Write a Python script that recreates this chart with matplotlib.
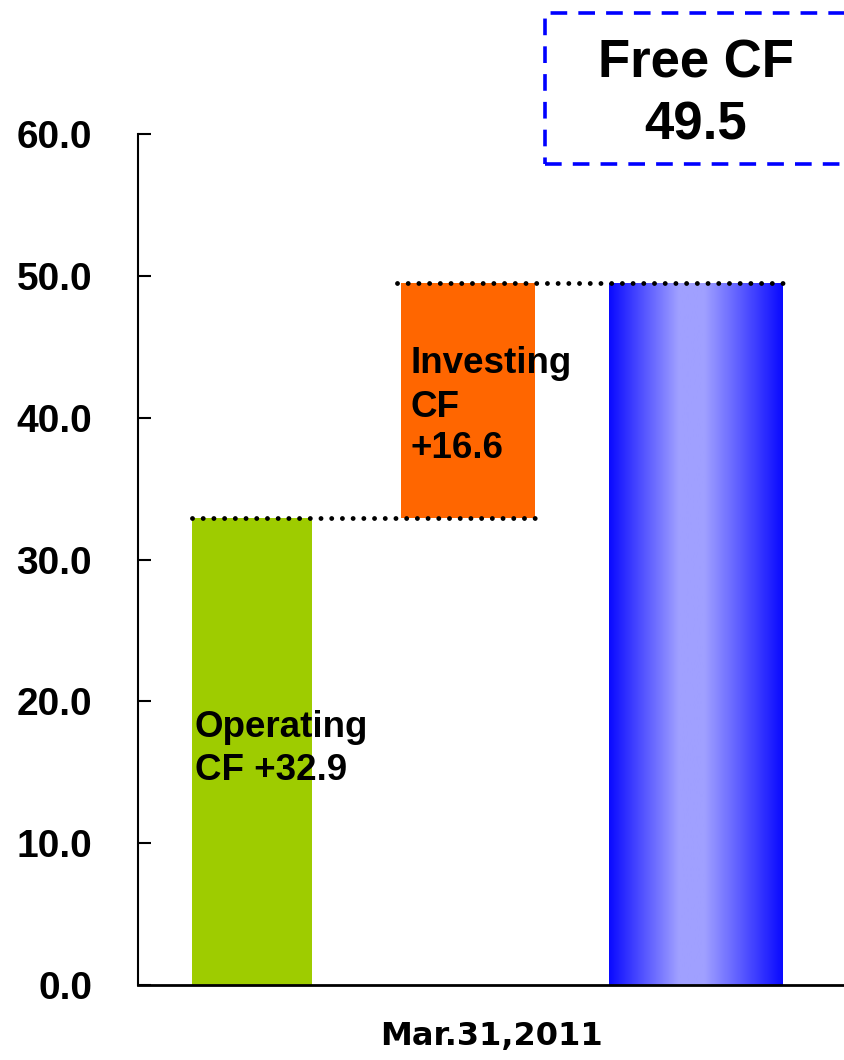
import numpy as np
import matplotlib
matplotlib.use("Agg")
import matplotlib.pyplot as plt
from matplotlib.patches import Rectangle
from matplotlib.colors import LinearSegmentedColormap

# Cash-flow components (billions)
categories = ["Operating CF", "Investing CF", "Free CF"]
operating_cf = 32.9
investing_cf = 16.6
free_cf = operating_cf + investing_cf
period_label = "Mar.31,2011"
y_ticks = [0, 10, 20, 30, 40, 50, 60]

# Layout of the three columns along the axis (axis units 0..10)
bar_left = [0.765, 3.725, 6.671]
bar_width = [1.70, 1.898, 2.451]

plt.rcParams["font.family"] = ["Liberation Sans", "DejaVu Sans"]
plt.rcParams["font.weight"] = "bold"
plt.rcParams["lines.scale_dashes"] = False

W, H = 844, 1060
fig = plt.figure(figsize=(W / 100, H / 100), dpi=100)
ax = fig.add_axes([138 / W, (H - 985) / H, (W - 138) / W, (985 - 134) / H])

ax.set_xlim(0, 10)
ax.set_ylim(0, 60)

# Operating CF column
ax.bar(bar_left[0], operating_cf, width=bar_width[0], bottom=0, align="edge",
       color="#9ECC00", zorder=2)
# Investing CF column, stacked on top of operating
ax.bar(bar_left[1], investing_cf, width=bar_width[1], bottom=operating_cf,
       align="edge", color="#FF6600", zorder=2)
# Free CF column with horizontal gradient fill
free_bar = ax.bar(bar_left[2], free_cf, width=bar_width[2], bottom=0,
                  align="edge", color="none", zorder=2)[0]
cmap = LinearSegmentedColormap.from_list(
    "bluegrad",
    [(0.0, "#0A0AFF"), (0.40, "#A0A0FF"), (0.55, "#A0A0FF"), (1.0, "#0A0AFF")])
grad = np.linspace(0, 1, 256).reshape(1, -1)
img = ax.imshow(grad, cmap=cmap, aspect="auto", interpolation="bilinear",
                extent=(bar_left[2], bar_left[2] + bar_width[2], 0, free_cf),
                zorder=2)
img.set_clip_path(free_bar)
ax.set_xlim(0, 10)
ax.set_ylim(0, 60)

# Dotted connector lines
dot_style = dict(color="black", linewidth=3.5, linestyle=(0, (0.01, 7.7)),
                 dash_capstyle="round", zorder=3, clip_on=False)
ax.plot([bar_left[0], bar_left[1] + bar_width[1] + 0.04],
        [operating_cf, operating_cf], **dot_style)
ax.plot([bar_left[1] - 0.06, bar_left[2] + bar_width[2] + 0.04],
        [free_cf, free_cf], **dot_style)

# Column annotations
txt_kw = dict(fontsize=26.5, fontweight="bold", color="black", ha="left",
              va="baseline", zorder=4)
ax.text(0.807, 17.49, "Operating", **txt_kw)
ax.text(0.807, 14.45, f"CF +{operating_cf:.1f}", **txt_kw)
ax.text(3.853, 43.15, "Investing", **txt_kw)
ax.text(3.853, 40.05, "CF", **txt_kw)
ax.text(3.853, 37.16, f"+{investing_cf:.1f}", **txt_kw)

# Axes styling
for s in ["top", "right"]:
    ax.spines[s].set_visible(False)
ax.spines["left"].set_linewidth(1.5)
ax.spines["bottom"].set_linewidth(2.0)
ax.set_yticks(y_ticks)
ax.set_yticklabels([f"{v:.1f}" for v in y_ticks], fontsize=28, fontweight="bold")
ax.tick_params(axis="y", direction="in", length=9, width=1.5, pad=33)
ax.set_xticks([5])
ax.set_xticklabels([period_label], fontsize=23, fontweight="bold",
                   family="DejaVu Sans")
ax.tick_params(axis="x", length=0, pad=26)

# Free CF callout box
box = Rectangle((545 / W, (H - 164) / H), (W - 545 + 40) / W, (164 - 13) / H,
                transform=fig.transFigure, fill=False, edgecolor="#0000FF",
                linewidth=2.6, linestyle=(0, (12.0, 8.0)), clip_on=False)
fig.add_artist(box)
fig.text(696 / W, 1 - 77 / H, "Free CF", fontsize=38, fontweight="bold",
         ha="center", va="baseline")
fig.text(696 / W, 1 - 140 / H, f"{free_cf:.1f}", fontsize=38, fontweight="bold",
         ha="center", va="baseline")

fig.savefig("out.png", dpi=100)
